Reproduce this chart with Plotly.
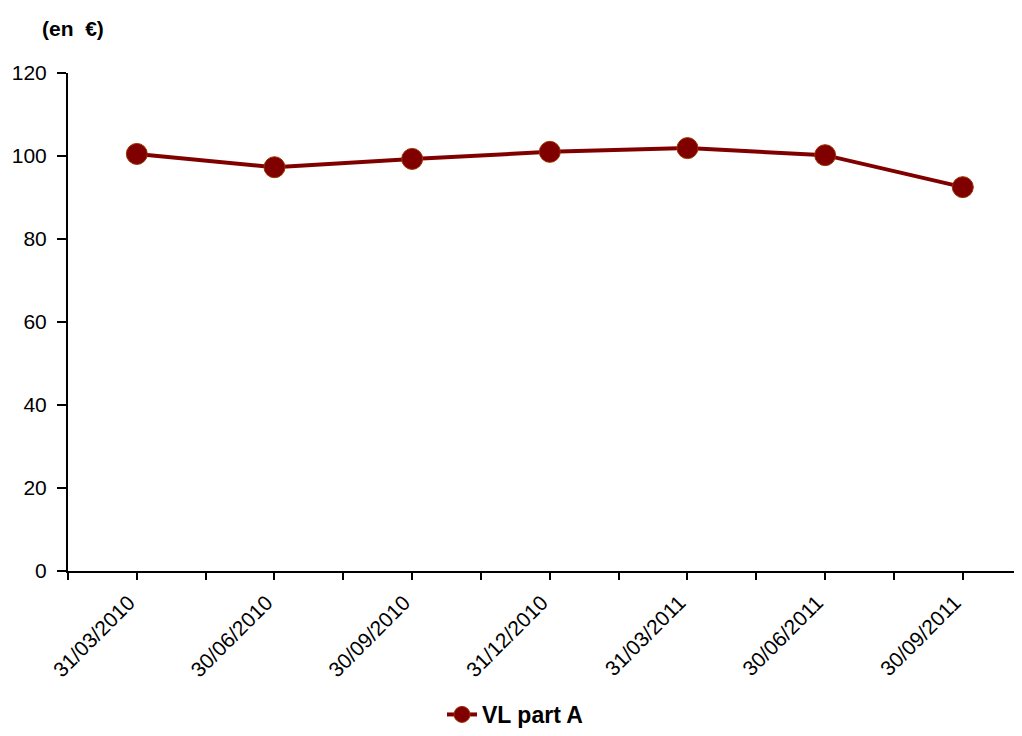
import plotly.graph_objects as go

dates = ["31/03/2010", "30/06/2010", "30/09/2010", "31/12/2010",
         "31/03/2011", "30/06/2011", "30/09/2011"]
vl_part_a = [100.5, 97.3, 99.3, 101.0, 101.9, 100.2, 92.5]
y_ticks = [0, 20, 40, 60, 80, 100, 120]

x_idx = list(range(len(dates)))
color = "#800000"
font = "Liberation Sans, Arial, sans-serif"

fig = go.Figure()
fig.add_trace(go.Scatter(
    x=x_idx, y=vl_part_a, mode="lines+markers", name="VL part A",
    line=dict(color=color, width=4),
    marker=dict(color=color, size=21, line=dict(color="#993300", width=1)),
))

fig.update_layout(
    width=1014, height=728,
    margin=dict(l=60, r=0, t=65, b=165, autoexpand=False),
    paper_bgcolor="white", plot_bgcolor="white",
    font=dict(family=font, size=21, color="black"),
    showlegend=True,
    legend=dict(orientation="h", xref="container", yref="container",
                x=0.5, xanchor="center", y=0.0, yanchor="bottom",
                font=dict(family=font, size=23, color="black", weight="bold")),
    xaxis=dict(
        range=[-0.5, 6.43], automargin=False,
        tickvals=x_idx, ticktext=dates, tickangle=-45,
        ticklabelshift=-8, ticklabelstandoff=2,
        showgrid=False, zeroline=False,
        showline=True, linecolor="black", linewidth=2,
        ticks="outside", ticklen=7, tickwidth=2, tickcolor="black",
        minor=dict(tick0=-0.5, dtick=1, ticks="outside", ticklen=7,
                   tickwidth=2, tickcolor="black", showgrid=False),
        tickfont=dict(size=21),
    ),
    yaxis=dict(
        range=[0, 120], tickvals=y_ticks, automargin=False,
        ticklabelstandoff=6,
        showgrid=False, zeroline=False,
        showline=True, linecolor="black", linewidth=2,
        ticks="outside", ticklen=9, tickwidth=2, tickcolor="black",
        tickfont=dict(size=21),
    ),
    annotations=[dict(
        text="<b>(en&nbsp;&nbsp;€)</b>", xref="paper", yref="paper",
        x=-0.0294, y=1.09, xanchor="left", yanchor="middle",
        showarrow=False,
        font=dict(family=font, size=21, color="black"),
    )],
)

fig.write_html("out.html")
